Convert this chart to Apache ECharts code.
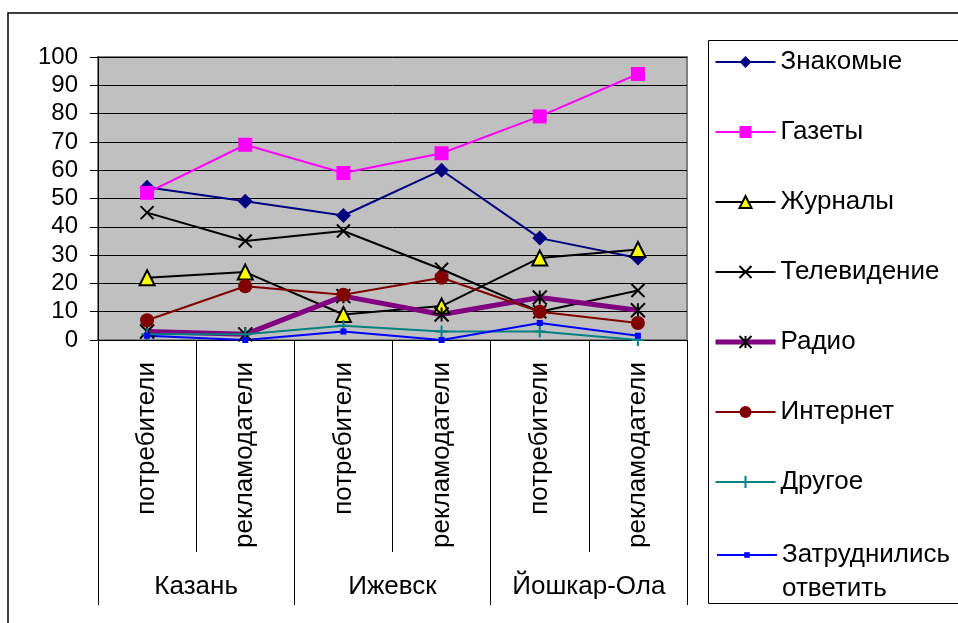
<!DOCTYPE html>
<html>
<head>
<meta charset="utf-8">
<script src="https://cdn.jsdelivr.net/npm/echarts@6/dist/echarts.min.js"></script>
<style>
  html, body { margin: 0; padding: 0; background: #fff; }
  #chart { width: 958px; height: 623px; }
</style>
</head>
<body>
<div id="chart"></div>
<script>
// Respondent groups per city and the cities themselves
const groups = ['потребители', 'рекламодатели', 'потребители', 'рекламодатели', 'потребители', 'рекламодатели'];
const cities = ['Казань', 'Ижевск', 'Йошкар-Ола'];
const yTicks = [0, 10, 20, 30, 40, 50, 60, 70, 80, 90, 100];

// Share of answers (%) for each information source
const znakomye   = [54, 49, 44, 60, 36, 29];
const gazety     = [52, 69, 59, 66, 79, 94];
const zhurnaly   = [22, 24, 9, 12, 29, 32];
const televidenie = [45, 35, 38.5, 25, 10, 17.5];
const radio      = [3, 2, 15.5, 9, 15, 10.5];
const internet   = [7, 19, 16, 22, 10, 6];
const drugoe     = [2, 2, 5, 3, 3, 0];
const zatrudnilis = [1.5, 0, 3, 0, 6, 1.5];

const FONT = 'Liberation Sans, Arial, sans-serif';
const TXT = 26;
const crossPath = 'path://M0,0L10,10M10,0L0,10';
const starPath = 'path://M0,0L10,10M10,0L0,10M5,0L5,10';
const plusPath = 'path://M5,0L5,10M0,5L10,5';

function lineSeries(name, data, color, symbol, size, extra) {
  return Object.assign({
    name: name,
    type: 'line',
    data: data,
    symbol: symbol,
    symbolSize: size,
    lineStyle: { color: color, width: 2 },
    itemStyle: { color: color },
    animation: false
  }, extra || {});
}

const series = [
  lineSeries('Знакомые', znakomye, '#000080', 'diamond', 15),
  lineSeries('Газеты', gazety, '#FF00FF', 'rect', 14),
  lineSeries('Журналы', zhurnaly, '#000000', 'triangle', 15, {
    itemStyle: { color: '#FFFF00', borderColor: '#000000', borderWidth: 2 }
  }),
  lineSeries('Телевидение', televidenie, '#000000', crossPath, 13, {
    itemStyle: { color: 'rgba(0,0,0,0)', borderColor: '#000000', borderWidth: 2 }
  }),
  lineSeries('Радио', radio, '#800080', starPath, 14, {
    lineStyle: { color: '#800080', width: 5 },
    itemStyle: { color: 'rgba(0,0,0,0)', borderColor: '#000000', borderWidth: 2 }
  }),
  lineSeries('Интернет', internet, '#800000', 'circle', 14),
  lineSeries('Другое', drugoe, '#008080', plusPath, 12, {
    itemStyle: { color: 'rgba(0,0,0,0)', borderColor: '#008080', borderWidth: 2 }
  }),
  lineSeries('Затруднились\nответить', zatrudnilis, '#0000FF', 'rect', 6)
];

// key entries; the radio key keeps its heavy line
const legendEntries = series.slice(0, 7).map(s =>
  s.name === 'Радио' ? { name: s.name, lineStyle: { width: 5 } } : s.name
);

const chart = echarts.init(document.getElementById('chart'), null, { renderer: 'canvas' });
chart.setOption({
  backgroundColor: '#ffffff',
  animation: false,
  grid: {
    left: 98, top: 57, width: 589, height: 283,
    show: true, backgroundColor: '#C0C0C0', borderColor: '#808080', borderWidth: 2
  },
  legend: [
    {
      orient: 'vertical', left: 713, top: 48, padding: 0,
      itemWidth: 60, itemHeight: 15, itemGap: 42,
      data: legendEntries,
      textStyle: { fontFamily: FONT, fontSize: TXT, color: '#000', lineHeight: 28 }
    },
    {
      // last entry: the caption's first line sits level with the key
      orient: 'vertical', left: 716, top: 504, padding: 0,
      itemWidth: 60, itemHeight: 7,
      data: [series[7].name],
      formatter: n => '\u00a0\n' + n,
      textStyle: { fontFamily: FONT, fontSize: TXT, color: '#000', lineHeight: 34 }
    }
  ],
  xAxis: [
    {
      type: 'category', data: groups, boundaryGap: true, position: 'bottom',
      axisLine: { show: true, lineStyle: { color: '#000', width: 1 } },
      axisTick: { show: true, interval: 0, length: 212, lineStyle: { color: '#000', width: 1 } },
      axisLabel: { interval: 0, rotate: 90, margin: 22, fontFamily: FONT, fontSize: TXT, color: '#000' }
    },
    {
      type: 'category', data: cities, boundaryGap: true, position: 'bottom',
      axisLine: { show: false },
      axisTick: { show: true, interval: 0, length: 265, lineStyle: { color: '#000', width: 1 } },
      axisLabel: { interval: 0, margin: 234, fontFamily: FONT, fontSize: TXT, color: '#000' }
    }
  ],
  yAxis: {
    type: 'value', min: yTicks[0], max: yTicks[yTicks.length - 1], interval: 10,
    axisLine: { show: true, lineStyle: { color: '#000', width: 1 } },
    axisTick: { show: true, length: 8, lineStyle: { color: '#000' } },
    axisLabel: { margin: 20, fontFamily: FONT, fontSize: 24, color: '#000' },
    splitLine: { show: true, lineStyle: { color: '#000', width: 1 } }
  },
  graphic: [
    { type: 'rect', shape: { x: 8, y: 13, width: 1000, height: 700 },
      style: { fill: null, stroke: '#000', lineWidth: 1.5 }, z: 100 },
    { type: 'rect', shape: { x: 708.5, y: 40.5, width: 300, height: 563 },
      style: { fill: null, stroke: '#000', lineWidth: 1 }, z: 100 }
  ],
  series: series
});
</script>
</body>
</html>
